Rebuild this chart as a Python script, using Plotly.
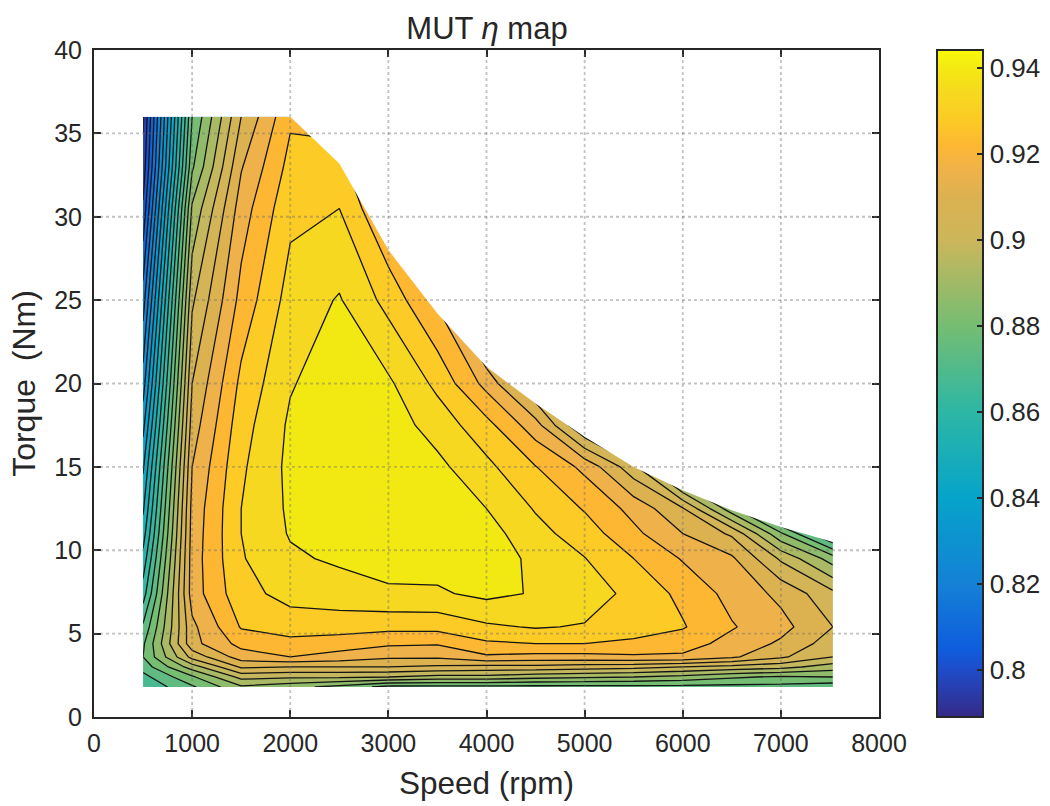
import plotly.graph_objects as go

speed = [500, 1000, 1500, 2000, 2500, 3000, 3500, 4000, 4500, 5000, 5500, 6000, 6500, 7000, 7530]
torque = [1.8, 2.4, 3, 3.6, 4.4, 5.4, 7.4, 9.5, 11, 12.5, 15, 17.5, 20, 25, 30.5, 33, 36]

# efficiency per speed column, listed along torque rows
eta_500  = [.866, .869, .8735, .877, .876, .872, .862, .855, .850, .846, .840, .833, .826, .814, .800, .795, .792]
eta_1000 = [.876, .882, .892, .903, .911, .9115, .916, .916, .9155, .915, .913, .910, .907, .900, .890, .882, .877]
eta_1500 = [.888, .897, .908, .916, .921, .9255, .929, .9305, .931, .931, .930, .9285, .9265, .921, .916, .9125, .907]
eta_2000 = [.885, .896, .907, .919, .923, .928, .933, .936, .9375, .938, .9385, .938, .9365, .9335, .9295, .927, .924]
eta_2500 = [.881, .896, .907, .917, .9215, .928, .934, .938, .940, .941, .9415, .941, .9405, .9375, .931, .9285, .922]
eta_3000 = [.875, .895, .907, .914, .920, .9268, .936, .9395, .941, .9425, .942, .940, .938, .929, .918, .905, .895]
eta_3500 = [.875, .893, .906, .914, .9195, .927, .9362, .9395, .941, .9405, .9385, .9345, .9295, .918, .900, .890, .880]
eta_4000 = [.875, .893, .905, .918, .924, .930, .9385, .9405, .9395, .937, .9325, .927, .917, .895, .870, .860, .850]
eta_4500 = [.875, .891, .905, .917, .925, .9315, .9365, .9355, .933, .9305, .9252, .9155, .900, .870, .850, .840, .830]
eta_5000 = [.875, .890, .904, .917, .925, .9305, .9345, .9312, .928, .9245, .9175, .894, .870, .850, .830, .820, .810]
eta_5500 = [.875, .889, .903, .918, .9235, .9285, .929, .925, .9205, .917, .903, .875, .855, .830, .810, .800, .790]
eta_6000 = [.875, .887, .901, .918, .9215, .9255, .9235, .9185, .913, .9075, .875, .840, .830, .810, .790, .790, .790]
eta_6500 = [.875, .884, .899, .914, .917, .9195, .917, .914, .906, .885, .855, .820, .800, .790, .790, .790, .790]
eta_7000 = [.875, .882, .897, .908, .912, .915, .9115, .900, .884, .860, .820, .790, .790, .790, .790, .790, .790]
eta_7530 = [.873, .883, .892, .901, .904, .907, .9025, .886, .862, .840, .800, .790, .790, .790, .790, .790, .790]
columns = [eta_500, eta_1000, eta_1500, eta_2000, eta_2500, eta_3000, eta_3500, eta_4000,
           eta_4500, eta_5000, eta_5500, eta_6000, eta_6500, eta_7000, eta_7530]

# maximum-torque envelope
env_speed = [500, 2000, 2500, 3000, 3500, 4000, 4500, 5000, 5500, 6000, 6500, 7000, 7530]
env_torque = [36, 36, 33.2, 28, 24.2, 21, 18.8, 16.8, 15, 13.6, 12.4, 11.4, 10.5]

x_ticks = [0, 1000, 2000, 3000, 4000, 5000, 6000, 7000, 8000]
y_ticks = [0, 5, 10, 15, 20, 25, 30, 35, 40]
cb_ticks = [0.8, 0.82, 0.84, 0.86, 0.88, 0.9, 0.92, 0.94]
cb_labels = ["0.8", "0.82", "0.84", "0.86", "0.88", "0.9", "0.92", "0.94"]

parula = [
    [0.0, "#352A87"], [0.07, "#1F4BC8"], [0.1, "#0F5CDD"], [0.2, "#1481D6"], [0.33, "#06A4CA"],
    [0.46, "#2EB7A4"], [0.587, "#75BD72"], [0.716, "#CDB65B"], [0.78, "#DCB150"], [0.819, "#EFB24A"],
    [0.857, "#FDB733"], [0.895, "#FCCB25"], [0.934, "#F7D820"], [0.973, "#F3E912"], [1.0, "#FAFA0A"],
]
CMIN, CMAX = 0.789, 0.9442
LEVEL_START, LEVEL_END, LEVEL_STEP = 0.787, 0.943, 0.006

# Plotly stretches a filled contour's colour scale over its levels; re-express stops on that span
span_lo = LEVEL_START - LEVEL_STEP / 2
span_hi = LEVEL_END + LEVEL_STEP / 2
contour_scale = [[0.0, parula[0][1]]]
for t, c in parula:
    contour_scale.append([(CMIN + t * (CMAX - CMIN) - span_lo) / (span_hi - span_lo), c])
contour_scale.append([1.0, parula[-1][1]])

W, H = 1050, 806
INK = "#262626"
FONT = "Liberation Sans"

z = [[col[i] for col in columns] for i in range(len(torque))]

fig = go.Figure()
fig.add_trace(go.Contour(
    x=speed, y=torque, z=z, colorscale=contour_scale, showscale=False,
    autocontour=False,
    contours=dict(start=LEVEL_START, end=LEVEL_END, size=LEVEL_STEP, coloring="fill", showlines=True),
    line=dict(color="#141414", width=1.3, smoothing=0),
    hoverinfo="skip",
))

# white mask outside the operating envelope (outer ring counter-clockwise, inner ring clockwise)
mask_x = [-100, 8100, 8100, -100, -100, speed[0]] + env_speed + [speed[-1], speed[0], -100]
mask_y = [-2, -2, 42, 42, -2, torque[0]] + env_torque + [torque[0], torque[0], -2]
fig.add_trace(go.Scatter(x=mask_x, y=mask_y, mode="lines", fill="toself", fillcolor="white",
                         line=dict(width=0, color="white"), hoverinfo="skip", showlegend=False))

# off-plot point that only carries the continuous colour bar
fig.add_trace(go.Scatter(
    x=[-1000], y=[-1000], mode="markers", hoverinfo="skip", showlegend=False,
    marker=dict(size=1, color=[CMIN], colorscale=parula, cmin=CMIN, cmax=CMAX, showscale=True,
                colorbar=dict(x=937 / W, xanchor="left", xpad=0, ypad=0, y=89 / H, yanchor="bottom",
                              len=667 / H, lenmode="fraction", thickness=46, thicknessmode="pixels",
                              outlinecolor=INK, outlinewidth=2, tickvals=cb_ticks, ticktext=cb_labels,
                              ticks="inside", ticklen=7, tickwidth=1.5, tickcolor=INK,
                              tickfont=dict(family=FONT, size=26, color=INK))),
))

grid = dict(color="rgba(110,110,110,0.42)", width=1.8, dash="dot")
shapes = []
for v in x_ticks[1:-1]:
    shapes.append(dict(type="line", xref="x", yref="paper", x0=v, x1=v, y0=89 / H, y1=756 / H,
                       line=grid, layer="above"))
for v in y_ticks[1:-1]:
    shapes.append(dict(type="line", xref="paper", yref="y", y0=v, y1=v, x0=94 / W, x1=879 / W,
                       line=grid, layer="above"))

axis = dict(showgrid=False, zeroline=False, showline=True, linecolor=INK, linewidth=2,
            mirror="allticks", ticks="inside", ticklen=7, tickwidth=2, tickcolor=INK,
            tickfont=dict(family=FONT, size=25, color=INK), automargin=False)

fig.update_layout(
    width=W, height=H, autosize=False,
    margin=dict(l=0, r=0, t=0, b=0),
    paper_bgcolor="white", plot_bgcolor="white", showlegend=False,
    font=dict(family=FONT, color=INK),
    title=dict(text="MUT <i>η</i> map", x=487 / W, xanchor="center", y=1 - 28 / H, yanchor="middle",
               font=dict(family=FONT, size=31, color=INK)),
    xaxis=dict(axis, domain=[94 / W, 879 / W], range=[0, 8000], tickvals=x_ticks, ticklabelstandoff=3,
               title=dict(text="Speed (rpm)", font=dict(family=FONT, size=31.5, color=INK), standoff=16)),
    yaxis=dict(axis, domain=[89 / H, 756 / H], range=[0, 40], tickvals=y_ticks, ticklabelstandoff=5,
               title=dict(text="Torque  (Nm)", font=dict(family=FONT, size=32, color=INK), standoff=9)),
    shapes=shapes,
)

fig.write_html("out.html", config=dict(displayModeBar=False),
               post_script="document.body.style.margin='0';document.body.style.overflow='hidden';window.dispatchEvent(new Event('resize'));")
